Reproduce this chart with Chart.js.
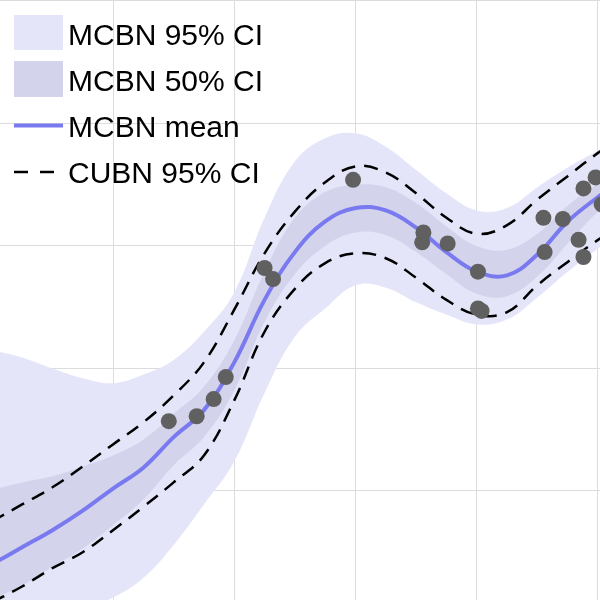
<!DOCTYPE html>
<html>
<head>
<meta charset="utf-8">
<script src="https://cdn.jsdelivr.net/npm/chart.js@4/dist/chart.umd.min.js"></script>
<style>
  html, body { margin: 0; padding: 0; background: #fff; }
  canvas { display: block; }
</style>
</head>
<body>
<canvas id="chart" width="600" height="600"></canvas>
<script>
// sample positions along x
const xs = [0, 0.25, 0.5, 0.75, 1, 1.25, 1.5, 1.75, 2, 2.25, 2.5, 2.75, 3, 3.25, 3.5, 3.75, 4, 4.25, 4.5, 4.75, 5, 5.1];

// MCBN
const mcbnMean = [-0.60, -0.46, -0.32, -0.16, 0.02, 0.19, 0.44, 0.66, 1.05, 1.56, 1.95, 2.20, 2.31, 2.29, 2.15, 1.95, 1.79, 1.76, 1.93, 2.20, 2.40, 2.47];
const mcbn95Hi = [1.15, 1.09, 1.00, 0.92, 0.88, 0.95, 1.07, 1.30, 1.62, 2.23, 2.69, 2.88, 2.92, 2.81, 2.62, 2.43, 2.29, 2.31, 2.48, 2.64, 2.78, 2.83];
const mcbn95Lo = [-1.30, -1.18, -1.07, -0.97, -0.87, -0.71, -0.44, -0.11, 0.24, 0.80, 1.26, 1.49, 1.68, 1.66, 1.54, 1.44, 1.36, 1.40, 1.58, 1.79, 1.98, 2.05];
const mcbn50Hi = [0.01, 0.07, 0.12, 0.20, 0.29, 0.42, 0.63, 0.85, 1.23, 1.79, 2.23, 2.44, 2.50, 2.48, 2.35, 2.16, 2.00, 1.97, 2.10, 2.33, 2.51, 2.58];
const mcbn50Lo = [-0.89, -0.77, -0.62, -0.47, -0.28, -0.07, 0.21, 0.44, 0.82, 1.38, 1.77, 2.00, 2.11, 2.09, 1.95, 1.77, 1.61, 1.59, 1.75, 2.02, 2.28, 2.34];

// CUBN
const cubnHi = [-0.25, -0.11, 0.03, 0.20, 0.38, 0.56, 0.78, 1.05, 1.48, 1.94, 2.28, 2.52, 2.65, 2.60, 2.43, 2.23, 2.10, 2.17, 2.38, 2.57, 2.76, 2.82];
const cubnLo = [-0.91, -0.78, -0.63, -0.50, -0.32, -0.13, 0.07, 0.29, 0.74, 1.30, 1.65, 1.86, 1.94, 1.90, 1.74, 1.56, 1.44, 1.46, 1.68, 1.87, 2.05, 2.11];

// observations
const obsX = [1.46, 1.69, 1.83, 1.93, 2.25, 2.32, 2.98, 3.56, 3.55, 3.76, 4.01, 4.01, 4.04, 4.55, 4.71, 4.56, 4.84, 4.88, 4.88, 4.98, 5.03];
const obsY = [0.57, 0.61, 0.75, 0.93, 1.82, 1.73, 2.54, 2.11, 2.03, 2.02, 1.79, 1.49, 1.47, 2.23, 2.22, 1.95, 2.05, 1.91, 2.47, 2.56, 2.34];

const xTicks = [1, 2, 3, 4, 5];
const yTicks = [0, 1, 2, 3, 4];

const legendLabels = ['MCBN 95% CI', 'MCBN 50% CI', 'MCBN mean', 'CUBN 95% CI'];

const c95 = 'rgb(229,229,250)';
const c50 = 'rgb(211,211,236)';
const cMean = 'rgb(122,122,240)';
const cDots = 'rgb(96,96,96)';

const pts = (ys) => xs.map((x, i) => ({x: x, y: ys[i]}));

const band = {pointRadius: 0, borderWidth: 0, tension: 0.4};
const dash = {pointRadius: 0, borderWidth: 2.5, borderColor: '#000', borderDash: [14, 9], fill: false, tension: 0.4};

// legend drawn inside the plot, top left
const insideLegend = {
    id: 'insideLegend',
    afterDraw(chart) {
        const ctx = chart.ctx;
        ctx.save();
        ctx.fillStyle = c95;
        ctx.fillRect(14, 15, 49, 35);
        ctx.fillStyle = c50;
        ctx.fillRect(14, 61, 49, 36);

        ctx.strokeStyle = cMean;
        ctx.lineWidth = 4;
        ctx.beginPath();
        ctx.moveTo(14, 125.5);
        ctx.lineTo(63, 125.5);
        ctx.stroke();

        ctx.strokeStyle = '#000';
        ctx.lineWidth = 2.5;
        ctx.setLineDash([14, 12]);
        ctx.beginPath();
        ctx.moveTo(14, 172);
        ctx.lineTo(63, 172);
        ctx.stroke();
        ctx.setLineDash([]);

        ctx.fillStyle = '#000';
        ctx.font = '30px "Liberation Sans", Arial, sans-serif';
        ctx.textBaseline = 'alphabetic';
        const base = [45, 91, 137, 183];
        legendLabels.forEach((t, i) => ctx.fillText(t, 68, base[i]));
        ctx.restore();
    }
};

const ctx = document.getElementById('chart');
new Chart(ctx, {
    type: 'line',
    data: {
        datasets: [
            {label: 'obs', type: 'scatter', data: obsX.map((x, i) => ({x: x, y: obsY[i]})),
             pointRadius: 8, pointBackgroundColor: cDots, pointBorderWidth: 0, showLine: false, order: 0},
            {label: 'MCBN mean', data: pts(mcbnMean), borderColor: cMean, borderWidth: 4, pointRadius: 0,
             fill: false, tension: 0.4, order: 1},
            {label: 'CUBN hi', data: pts(cubnHi), ...dash, order: 2},
            {label: 'CUBN lo', data: pts(cubnLo), ...dash, order: 2},
            {label: 'MCBN 50 hi', data: pts(mcbn50Hi), ...band, fill: 5, backgroundColor: c50, order: 3},
            {label: 'MCBN 50 lo', data: pts(mcbn50Lo), ...band, fill: false, order: 3},
            {label: 'MCBN 95 hi', data: pts(mcbn95Hi), ...band, fill: 7, backgroundColor: c95, order: 4},
            {label: 'MCBN 95 lo', data: pts(mcbn95Lo), ...band, fill: false, order: 4}
        ]
    },
    options: {
        responsive: false,
        animation: false,
        devicePixelRatio: 1,
        layout: {padding: 0, autoPadding: false},
        plugins: {
            legend: {display: false},
            tooltip: {enabled: false}
        },
        scales: {
            x: {
                type: 'linear',
                min: 0.068,
                max: 5.0165,
                afterBuildTicks: (s) => { s.ticks = xTicks.map(v => ({value: v})); },
                ticks: {display: false},
                grid: {color: '#dcdcdc', drawTicks: false},
                border: {display: false}
            },
            y: {
                min: -0.89,
                max: 4.008,
                afterBuildTicks: (s) => { s.ticks = yTicks.map(v => ({value: v})); },
                ticks: {display: false},
                grid: {color: '#dcdcdc', drawTicks: false},
                border: {display: false}
            }
        }
    },
    plugins: [insideLegend]
});
</script>
</body>
</html>
